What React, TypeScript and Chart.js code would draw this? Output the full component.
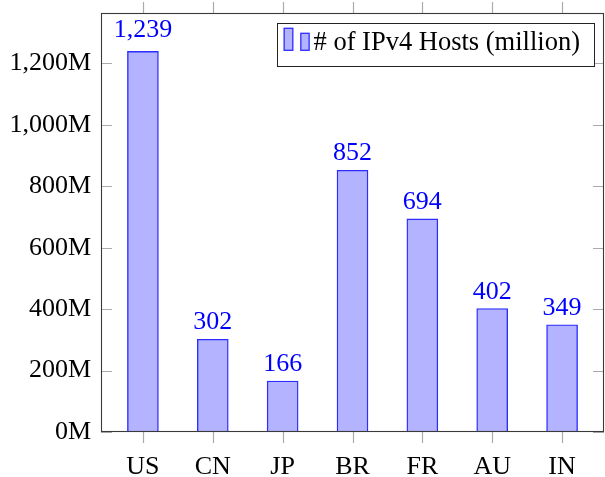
import React, { useEffect, useRef } from 'react';
import { Chart, registerables } from 'chart.js';

Chart.register(...registerables);

const categories = ['US', 'CN', 'JP', 'BR', 'FR', 'AU', 'IN'];
const hosts = [1239, 302, 166, 852, 694, 402, 349];
const valueLabels = ['1,239', '302', '166', '852', '694', '402', '349'];
const yTickValues = [0, 200, 400, 600, 800, 1000, 1200];
const seriesLabel = '# of IPv4 Hosts (million)';

const FONT = '"Liberation Serif", "Times New Roman", serif';
const FONT_SIZE = 26;
const FILL = 'rgb(179,179,255)';
const STROKE = 'rgb(45,45,255)';

const framePlugin = {
  id: 'pgfFrame',
  beforeDatasetsDraw(chart: any) {
    const { ctx, chartArea: a, scales } = chart;
    const x = scales.x;
    const y = scales.y;
    ctx.save();
    ctx.strokeStyle = '#ababab';
    ctx.lineWidth = 1.2;
    ctx.beginPath();
    y.ticks.forEach((t: any) => {
      const py = Math.round(y.getPixelForValue(t.value)) + 0.5;
      ctx.moveTo(a.left, py);
      ctx.lineTo(a.left + 11, py);
      ctx.moveTo(a.right - 11, py);
      ctx.lineTo(a.right, py);
    });
    x.ticks.forEach((t: any) => {
      const px = Math.round(x.getPixelForValue(t.value)) + 0.5;
      ctx.moveTo(px, a.bottom);
      ctx.lineTo(px, a.bottom + 11);
      ctx.moveTo(px, a.top - 11);
      ctx.lineTo(px, a.top);
    });
    ctx.stroke();
    ctx.restore();
  },
  afterDatasetsDraw(chart: any) {
    const { ctx, chartArea: a } = chart;
    ctx.save();
    // axis box
    ctx.strokeStyle = '#3a3a3a';
    ctx.lineWidth = 1.1;
    ctx.strokeRect(a.left + 0.5, a.top + 0.5, a.right - a.left - 1, a.bottom - a.top - 1);

    // value labels
    ctx.font = `${FONT_SIZE}px ${FONT}`;
    ctx.fillStyle = 'rgb(0,0,255)';
    ctx.textAlign = 'center';
    ctx.textBaseline = 'alphabetic';
    const meta = chart.getDatasetMeta(0);
    meta.data.forEach((bar: any, i: number) => {
      const txt = valueLabels[i];
      const m = ctx.measureText(txt);
      const desc = Math.max(0, m.actualBoundingBoxDescent || 0);
      ctx.fillText(txt, bar.x, bar.y - 10 - desc);
    });

    // legend
    const label = chart.data.datasets[0].label;
    ctx.font = `${FONT_SIZE + 0.5}px ${FONT}`;
    const tw = ctx.measureText(label).width;
    const boxW = 37 + tw + 14;
    const boxH = 43;
    const bx = a.right - 10 - boxW;
    const by = a.top + 10;
    ctx.fillStyle = '#fff';
    ctx.fillRect(bx, by, boxW, boxH);
    ctx.strokeStyle = '#222';
    ctx.lineWidth = 1;
    ctx.strokeRect(Math.round(bx) + 0.5, Math.round(by) + 0.5, Math.round(boxW), boxH);
    ctx.fillStyle = FILL;
    ctx.strokeStyle = STROKE;
    ctx.lineWidth = 1.3;
    ctx.fillRect(bx + 7.6, by + 5.3, 8.7, 22);
    ctx.strokeRect(bx + 7.6, by + 5.3, 8.7, 22);
    ctx.fillRect(bx + 24.3, by + 10.3, 8.3, 17);
    ctx.strokeRect(bx + 24.3, by + 10.3, 8.3, 17);
    ctx.fillStyle = '#000';
    ctx.textAlign = 'left';
    ctx.textBaseline = 'alphabetic';
    ctx.fillText(label, bx + 37, by + 27.3);
    ctx.restore();
  },
};

export default function App() {
  const ref = useRef<HTMLCanvasElement | null>(null);
  useEffect(() => {
    document.body.style.margin = '0';
    const canvas = ref.current;
    if (!canvas) return;
    const chart = new Chart(canvas, {
      type: 'bar',
      data: {
        datasets: [
          {
            label: seriesLabel,
            data: hosts.map((v, i) => ({ x: i, y: v })),
            backgroundColor: FILL,
            borderColor: STROKE,
            borderWidth: 1.4,
            barThickness: 31,
          },
        ],
      },
      options: {
        responsive: false,
        animation: false,
        layout: { padding: { top: 13, right: 1, left: 0, bottom: 0 } },
        plugins: { legend: { display: false }, tooltip: { enabled: false } },
        scales: {
          x: {
            type: 'linear',
            offset: false,
            min: -0.6,
            max: 6.6,
            grid: { display: false, offset: false, drawTicks: false },
            border: { display: false },
            afterBuildTicks: (s: any) => {
              s.ticks = categories.map((_, i) => ({ value: i }));
            },
            afterFit: (s: any) => {
              s.height = 45;
              s.paddingLeft = 0;
              s.paddingRight = 0;
            },
            ticks: {
              padding: 20,
              color: '#000',
              font: { family: FONT, size: FONT_SIZE },
              maxRotation: 0,
              autoSkip: false,
              callback: (v: any) => categories[v as number] ?? '',
            },
          },
          y: {
            type: 'linear',
            min: 0,
            max: 1364,
            grid: { display: false, drawTicks: false },
            border: { display: false },
            afterBuildTicks: (s: any) => {
              s.ticks = yTickValues.map((v) => ({ value: v }));
            },
            afterFit: (s: any) => {
              s.width = 101;
              s.paddingTop = 0;
              s.paddingBottom = 0;
            },
            ticks: {
              padding: 10,
              color: '#000',
              font: { family: FONT, size: FONT_SIZE },
              autoSkip: false,
              callback: (v: any) => Number(v).toLocaleString('en-US') + 'M',
            },
          },
        },
      },
      plugins: [framePlugin],
    });
    return () => chart.destroy();
  }, []);
  return <canvas ref={ref} width={605} height={477} style={{ display: 'block' }} />;
}
